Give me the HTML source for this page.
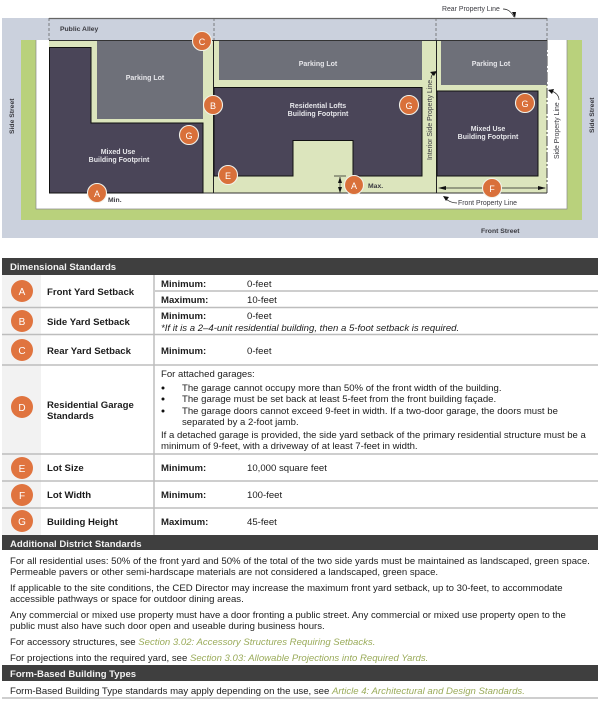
<!DOCTYPE html>
<html><head><meta charset="utf-8"><style>
html,body{margin:0;padding:0;background:#fff;width:600px;height:701px;overflow:hidden}
svg{display:block;filter:blur(.35px)}
text{font-family:"Liberation Sans",sans-serif;font-size:9.58px;fill:#1c1c1c}
.b{font-weight:bold}
.h{font-weight:bold;fill:#f2f2f2;font-size:9.55px}
.d{font-size:7px;font-weight:bold;fill:#e6e6ea;text-anchor:middle}
.k{font-size:6.8px;font-weight:bold;fill:#3a3a40}
.l{font-size:6.9px;fill:#3a3a40}
.g{fill:#9aab5a;font-style:italic}
.o{fill:#fff;font-size:9px;text-anchor:middle}
.T{fill:#fff;font-size:10px;text-anchor:middle}
.dl{stroke:#bdbdbd;stroke-width:1.5}
</style></head><body>
<svg width="600" height="701" viewBox="0 0 600 701" xmlns="http://www.w3.org/2000/svg">
<rect x="2" y="18" width="596" height="220" fill="#cbd1dd"/>
<rect x="21" y="40" width="561" height="180" fill="#b9d17c"/>
<rect x="36" y="40" width="531" height="169" fill="#fff"/>
<path d="M36 40V209H567V40" fill="none" stroke="#8a8a8a" stroke-width=".7"/>
<rect x="49" y="40" width="498" height="153" fill="#dce5bd"/>
<path d="M49 18.500H547" stroke="#666" stroke-width="1.200"/>
<path d="M49 18V40M214 18V40M436 18V40M547 18V40" stroke="#666" stroke-width=".8" stroke-dasharray="3 2"/>
<path d="M49 40.500H547M49 193H547" stroke="#333" stroke-width="1"/>
<path d="M547 40V193" stroke="#333" stroke-width=".9" stroke-dasharray="10 2 2 2"/>
<path d="M213.500 40V193M436.500 40V193" stroke="#222" stroke-width="1"/>
<path d="M49.500 47.500H91V123H203V193H49.500Z" fill="#4a4558" stroke="#111" stroke-width="1"/>
<rect x="97" y="41" width="106" height="78" fill="#6e7079"/>
<rect x="219" y="41" width="203" height="39" fill="#6e7079"/>
<rect x="441" y="41" width="106" height="44" fill="#6e7079"/>
<path d="M214 87.500H422V176H353V140.500H293V176H214Z" fill="#4a4558" stroke="#111" stroke-width="1"/>
<path d="M437 91H538V176H437Z" fill="#4a4558" stroke="#111" stroke-width="1"/>
<text class="d" x="145" y="80">Parking Lot</text>
<text class="d" x="318" y="66">Parking Lot</text>
<text class="d" x="491" y="66">Parking Lot</text>
<text class="d" x="118" y="154">Mixed Use</text>
<text class="d" x="119" y="162">Building Footprint</text>
<text class="d" x="318" y="108">Residential Lofts</text>
<text class="d" x="318" y="116">Building Footprint</text>
<text class="d" x="488" y="131">Mixed Use</text>
<text class="d" x="488" y="139">Building Footprint</text>
<text class="k" x="60" y="31">Public Alley</text>
<text class="k" x="108" y="202">Min.</text>
<text class="k" x="368" y="188">Max.</text>
<text class="k" x="481" y="233">Front Street</text>
<text class="k" transform="translate(14,134) rotate(-90)">Side Street</text>
<text class="k" transform="translate(594,133) rotate(-90)">Side Street</text>
<text class="l" x="442" y="11">Rear Property Line</text>
<text class="l" x="458" y="205">Front Property Line</text>
<text class="l" transform="translate(432,160) rotate(-90)">Interior Side Property Line</text>
<text class="l" transform="translate(559,159) rotate(-90)">Side Property Line</text>
<path d="M503 9Q510 9 514 17" fill="none" stroke="#222" stroke-width=".7"/><path d="M512 12L516 12L515 18Z" fill="#111"/>
<path d="M457 203Q450 203 445 198" fill="none" stroke="#222" stroke-width=".7"/><path d="M443 196L449 197L446 201Z" fill="#111"/>
<path d="M431 79Q431 74 436 72" fill="none" stroke="#222" stroke-width=".7"/><path d="M437 71L434 76L430 72Z" fill="#111"/>
<path d="M559 100Q559 93 549 90" fill="none" stroke="#222" stroke-width=".7"/><path d="M548 90L554 89L552 94Z" fill="#111"/>
<path d="M440 188H545" stroke="#222" stroke-width=".7"/><path d="M438 188L446 186V190ZM546 188L538 186V190Z" fill="#111"/>
<path d="M334 176H346M340 177V192" stroke="#222" stroke-width=".7"/><path d="M340 177L338 183H342ZM340 193L338 187H342Z" fill="#111"/>
<g fill="#d9703a" stroke="#f2f2ea" stroke-width="1.100">
<circle cx="97" cy="193" r="9.500"/><circle cx="202" cy="41" r="9.500"/><circle cx="213" cy="105" r="9.500"/><circle cx="189" cy="135" r="9.500"/><circle cx="228" cy="175" r="9.500"/><circle cx="354" cy="185" r="9.500"/><circle cx="492" cy="188" r="9.500"/><circle cx="409" cy="105" r="9.500"/><circle cx="525" cy="103" r="9.500"/>
</g>
<text class="o" x="97" y="197">A</text><text class="o" x="202" y="45">C</text><text class="o" x="213" y="109">B</text><text class="o" x="189" y="139">G</text><text class="o" x="228" y="179">E</text><text class="o" x="354" y="189">A</text><text class="o" x="492" y="192">F</text><text class="o" x="409" y="109">G</text><text class="o" x="525" y="107">G</text>

<rect x="2" y="275" width="39" height="260" fill="#f2f2f2"/>
<rect x="2" y="258" width="596" height="17" fill="#3f3f3f"/>
<rect x="2" y="535" width="596" height="15" fill="#3f3f3f"/>
<rect x="2" y="665" width="596" height="16" fill="#3f3f3f"/>
<path class="dl" d="M155 291H598M2 307.500H598M2 334.500H598M2 365H598M2 454H598M2 481H598M2 508H598M2 698H598"/>
<path class="dl" d="M154 275V535"/>
<text class="h" x="10" y="270">Dimensional Standards</text>
<text class="h" x="10" y="547">Additional District Standards</text>
<text class="h" x="10" y="677">Form-Based Building Types</text>
<g fill="#e0743f"><circle cx="22" cy="291" r="11"/><circle cx="22" cy="321" r="11"/><circle cx="22" cy="350" r="11"/><circle cx="22" cy="407" r="11"/><circle cx="22" cy="468" r="11"/><circle cx="22" cy="495" r="11"/><circle cx="22" cy="521" r="11"/></g>
<text class="T" x="22" y="295">A</text><text class="T" x="22" y="325">B</text><text class="T" x="22" y="354">C</text><text class="T" x="22" y="411">D</text><text class="T" x="22" y="472">E</text><text class="T" x="22" y="499">F</text><text class="T" x="22" y="525">G</text>
<text class="b" x="47" y="295">Front Yard Setback</text>
<text class="b" x="47" y="325">Side Yard Setback</text>
<text class="b" x="47" y="354">Rear Yard Setback</text>
<text class="b" x="47" y="408">Residential Garage</text>
<text class="b" x="47" y="419">Standards</text>
<text class="b" x="47" y="471">Lot Size</text>
<text class="b" x="47" y="498">Lot Width</text>
<text class="b" x="47" y="525">Building Height</text>
<text class="b" x="161" y="287">Minimum:</text><text x="247" y="287">0-feet</text>
<text class="b" x="161" y="303">Maximum:</text><text x="247" y="303">10-feet</text>
<text class="b" x="161" y="319">Minimum:</text><text x="247" y="319">0-feet</text>
<text x="161" y="331" font-style="italic">*If it is a 2–4-unit residential building, then a 5-foot setback is required.</text>
<text class="b" x="161" y="354">Minimum:</text><text x="247" y="354">0-feet</text>
<text x="161" y="377">For attached garages:</text>
<circle cx="163" cy="388" r="1.500" fill="#111"/><circle cx="163" cy="399" r="1.500" fill="#111"/><circle cx="163" cy="411" r="1.500" fill="#111"/>
<text x="182" y="391">The garage cannot occupy more than 50% of the front width of the building.</text>
<text x="182" y="402">The garage must be set back at least 5-feet from the front building façade.</text>
<text x="182" y="414">The garage doors cannot exceed 9-feet in width. If a two-door garage, the doors must be</text>
<text x="182" y="425">separated by a 2-foot jamb.</text>
<text x="161" y="438">If a detached garage is provided, the side yard setback of the primary residential structure must be a</text>
<text x="161" y="449">minimum of 9-feet, with a driveway of at least 7-feet in width.</text>
<text class="b" x="161" y="471">Minimum:</text><text x="247" y="471">10,000 square feet</text>
<text class="b" x="161" y="498">Minimum:</text><text x="247" y="498">100-feet</text>
<text class="b" x="161" y="525">Maximum:</text><text x="247" y="525">45-feet</text>
<text x="10" y="564">For all residential uses: 50% of the front yard and 50% of the total of the two side yards must be maintained as landscaped, green space.</text>
<text x="10" y="575">Permeable pavers or other semi-hardscape materials are not considered a landscaped, green space.</text>
<text x="10" y="591">If applicable to the site conditions, the CED Director may increase the maximum front yard setback, up to 30-feet, to accommodate</text>
<text x="10" y="602">accessible pathways or space for outdoor dining areas.</text>
<text x="10" y="618">Any commercial or mixed use property must have a door fronting a public street. Any commercial or mixed use property open to the</text>
<text x="10" y="629">public must also have such door open and useable during business hours.</text>
<text x="10" y="645">For accessory structures, see <tspan class="g">Section 3.02: Accessory Structures Requiring Setbacks.</tspan></text>
<text x="10" y="661">For projections into the required yard, see <tspan class="g">Section 3.03: Allowable Projections into Required Yards.</tspan></text>
<text x="10" y="694">Form-Based Building Type standards may apply depending on the use, see <tspan class="g">Article 4: Architectural and Design Standards.</tspan></text>
</svg>
</body></html>
